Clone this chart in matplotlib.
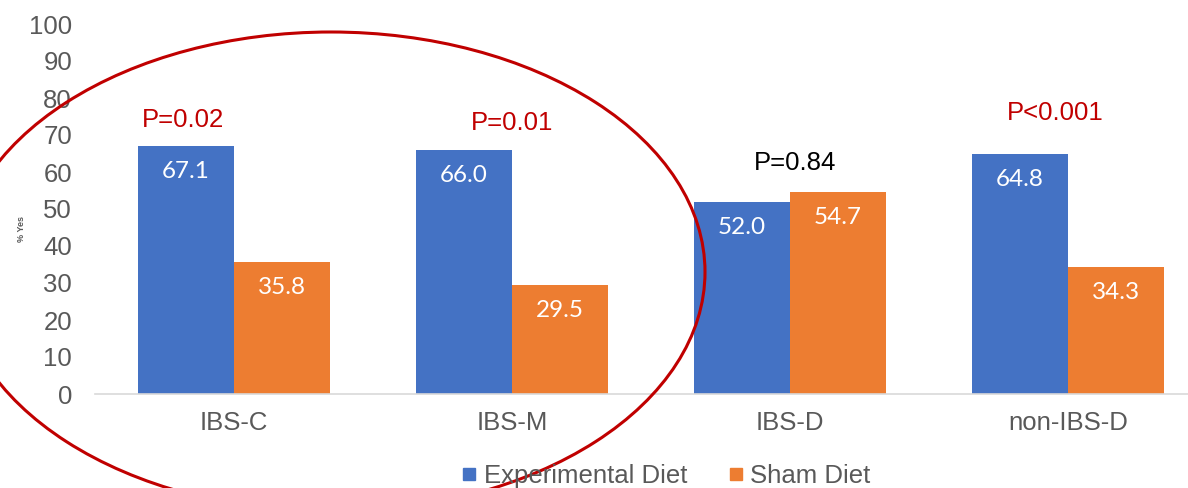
import matplotlib
matplotlib.use("Agg")
import matplotlib.pyplot as plt
from matplotlib.patches import Ellipse
from matplotlib.lines import Line2D
import numpy as np

categories = ["IBS-C", "IBS-M", "IBS-D", "non-IBS-D"]
experimental = [67.1, 66.0, 52.0, 64.8]
sham = [35.8, 29.5, 54.7, 34.3]
p_labels = ["P=0.02", "P=0.01", "P=0.84", "P<0.001"]
p_colors = ["#C00000", "#C00000", "#000000", "#C00000"]
p_pos = [(-0.183, 74.0), (1.002, 73.2), (2.018, 62.4), (2.953, 75.9)]
y_ticks = list(range(0, 101, 10))

BLUE = "#4472C4"
ORANGE = "#ED7D31"
GRAY = "#595959"
FONT = "Liberation Sans"

W, H = 1188, 488
fig = plt.figure(figsize=(W / 100, H / 100), dpi=100)
ax = fig.add_axes([95 / W, 1 - 394 / H, (1207 - 95) / W, (394 - 24) / H])

x = np.arange(len(categories))
bw = 0.345
b1 = ax.bar(x - bw / 2, experimental, bw, color=BLUE, label="Experimental Diet")
b2 = ax.bar(x + bw / 2, sham, bw, color=ORANGE, label="Sham Diet")

for bars, vals in ((b1, experimental), (b2, sham)):
    for rect, v in zip(bars, vals):
        ax.annotate(f"{v:.1f}", (rect.get_x() + rect.get_width() / 2, v),
                    xytext=(0, -18.5), textcoords="offset points",
                    ha="center", va="center", color="white",
                    fontsize=17.5, family="Lato")

for lab, col, (px, py) in zip(p_labels, p_colors, p_pos):
    ax.text(px, py, lab, color=col, ha="center", va="center",
            fontsize=18.5, family=FONT)

ax.set_xlim(-0.5, 3.5)
ax.set_ylim(0, 100)
ax.set_yticks(y_ticks)
ax.set_xticks(x)
ax.set_xticklabels(categories)
for s in ("top", "right", "left"):
    ax.spines[s].set_visible(False)
ax.spines["bottom"].set_color("#D9D9D9")
ax.spines["bottom"].set_linewidth(1.2)
ax.tick_params(axis="both", length=0, labelsize=18.5, labelcolor=GRAY)
ax.tick_params(axis="y", pad=16.5)
ax.tick_params(axis="x", pad=12)
for t in ax.get_xticklabels() + ax.get_yticklabels():
    t.set_family(FONT)

fig.text(22 / W, 1 - 229 / H, "% Yes", rotation=90, ha="center", va="center",
         fontsize=6.5, color=GRAY, family=FONT, fontweight="bold")

handles = [Line2D([], [], marker="s", linestyle="none", markersize=9,
                  color=BLUE, label="Experimental Diet"),
           Line2D([], [], marker="s", linestyle="none", markersize=9,
                  color=ORANGE, label="Sham Diet")]
leg = fig.legend(handles=handles, loc="center", bbox_to_anchor=(666 / W, 1 - 476 / H),
                 ncol=2, frameon=False, handlelength=0.6, handletextpad=0.25,
                 columnspacing=1.6, prop={"family": FONT, "size": 18.5})
for t in leg.get_texts():
    t.set_color(GRAY)

ell = Ellipse((331 / W, 1 - 272 / H), 748 / W, 480 / H, transform=fig.transFigure,
              fill=False, edgecolor="#C00000", linewidth=2.2, clip_on=False)
fig.patches.append(ell)

fig.savefig("out.png", dpi=100)
